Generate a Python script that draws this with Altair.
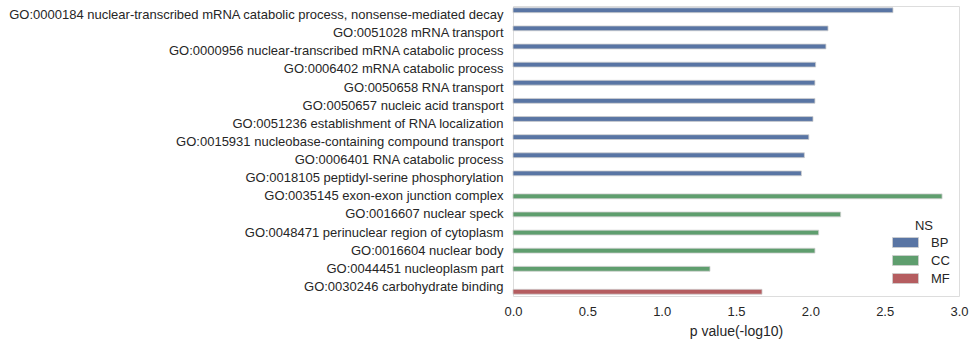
import altair as alt
import pandas as pd

terms = [
    "GO:0000184 nuclear-transcribed mRNA catabolic process, nonsense-mediated decay",
    "GO:0051028 mRNA transport",
    "GO:0000956 nuclear-transcribed mRNA catabolic process",
    "GO:0006402 mRNA catabolic process",
    "GO:0050658 RNA transport",
    "GO:0050657 nucleic acid transport",
    "GO:0051236 establishment of RNA localization",
    "GO:0015931 nucleobase-containing compound transport",
    "GO:0006401 RNA catabolic process",
    "GO:0018105 peptidyl-serine phosphorylation",
    "GO:0035145 exon-exon junction complex",
    "GO:0016607 nuclear speck",
    "GO:0048471 perinuclear region of cytoplasm",
    "GO:0016604 nuclear body",
    "GO:0044451 nucleoplasm part",
    "GO:0030246 carbohydrate binding",
]
ns = ["BP"] * 10 + ["CC"] * 5 + ["MF"]
pvals = [2.556, 2.119, 2.105, 2.036, 2.031, 2.031, 2.018, 1.99, 1.96, 1.94,
         2.886, 2.204, 2.056, 2.031, 1.325, 1.675]
ns_order = ["BP", "CC", "MF"]
ns_colors = ["#5975a4", "#5f9e6e", "#b55d60"]

df = pd.DataFrame({"term": terms, "NS": ns, "p": pvals})

chart = alt.Chart(df).mark_bar(stroke="#cfcfcf", strokeWidth=0.8).encode(
    x=alt.X("p:Q", title="p value(-log10)",
            scale=alt.Scale(domain=[0, 3.0], nice=False),
            axis=alt.Axis(values=[0, 0.5, 1.0, 1.5, 2.0, 2.5, 3.0], format=".1f",
                          grid=False, domain=False, ticks=False, labelPadding=9,
                          labelFlush=False,
                          labelFontSize=13, titleFontSize=14, titleFontWeight="normal",
                          titlePadding=6, labelColor="#262626", titleColor="#262626",
                          labelFont="Liberation Sans", titleFont="Liberation Sans")),
    y=alt.Y("term:N", sort=terms, title=None,
            scale=alt.Scale(paddingInner=0.2, paddingOuter=0.1),
            axis=alt.Axis(grid=False, domain=False, ticks=False, labelPadding=10,
                          labelFontSize=13, labelLimit=600, labelColor="#262626",
                          labelFont="Liberation Sans")),
    yOffset=alt.YOffset("NS:N", scale=alt.Scale(domain=ns_order, paddingInner=0, paddingOuter=0)),
    color=alt.Color("NS:N", scale=alt.Scale(domain=ns_order, range=ns_colors),
                    legend=alt.Legend(title="NS", orient="none", legendX=386, legendY=214,
                                      symbolType="M-2.6,-1L2.6,-1L2.6,1L-2.6,1Z",
                                      symbolSize=100, symbolStrokeColor="#cfcfcf",
                                      symbolStrokeWidth=0.8,
                                      labelFontSize=13, titleFontSize=13,
                                      titleFontWeight="normal", titleColor="#262626",
                                      labelColor="#262626", titleAnchor="middle",
                                      labelFont="Liberation Sans", titleFont="Liberation Sans",
                                      rowPadding=3, labelOffset=19, titlePadding=3)),
).properties(
    width=446, height=290,
    autosize=alt.AutoSizeParams(type="none"),
    padding={"left": 513, "top": 6, "right": 16, "bottom": 49},
).configure_view(stroke=None).configure(background="white")

chart.save("out.html", embed_options={"renderer": "svg", "actions": False})
